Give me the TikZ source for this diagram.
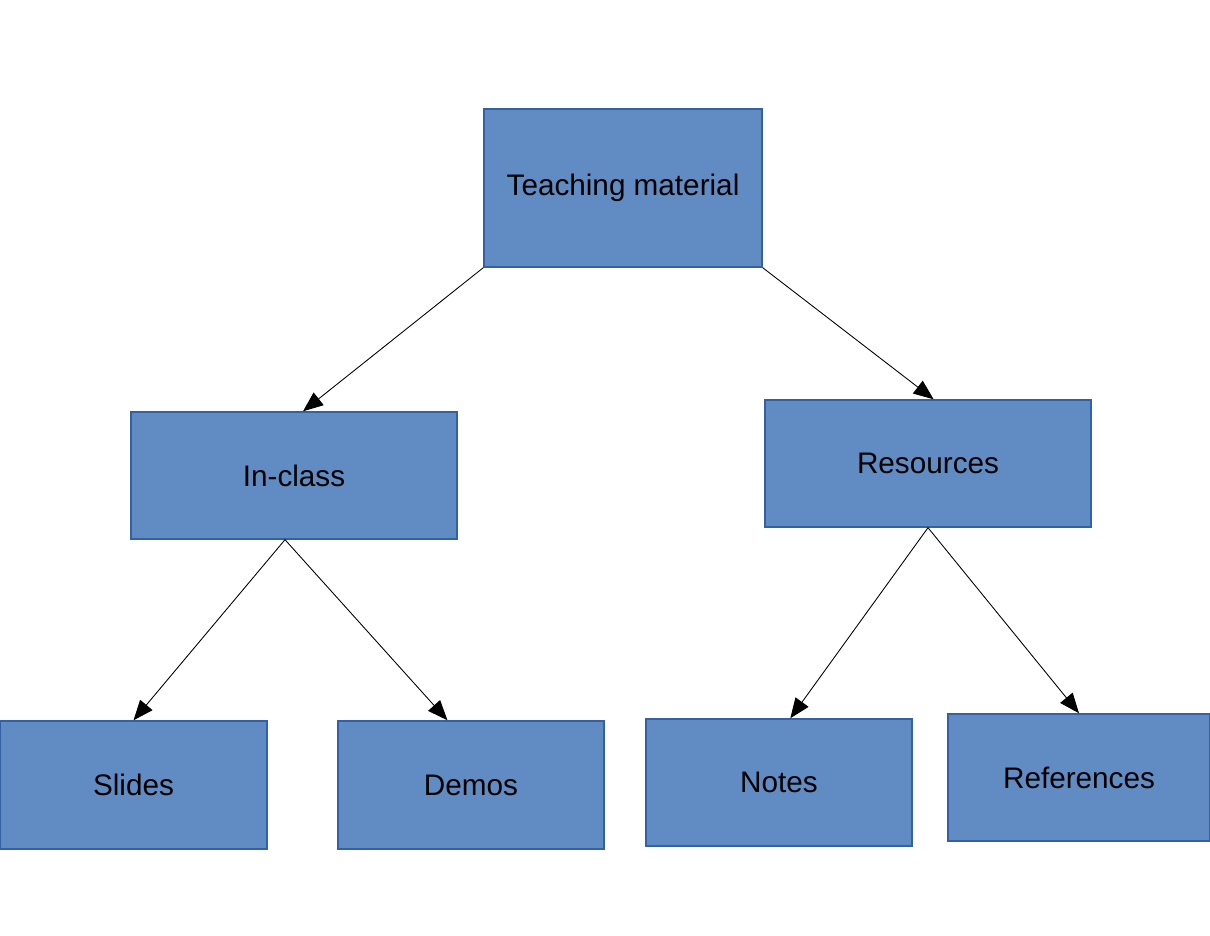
\documentclass[tikz,border=0pt]{standalone}
\usepackage{fontspec}
\setmainfont{Liberation Sans}
\usetikzlibrary{arrows.meta}
\definecolor{boxfill}{RGB}{96,140,195}
\definecolor{boxline}{RGB}{52,96,164}
\begin{document}
\begin{tikzpicture}[
  box/.style={draw=boxline, fill=boxfill, line width=0.4pt, inner sep=0pt, font=\fontsize{8.45}{10}\selectfont},
  link/.style={line width=0.25pt, -{Triangle[length=0.2cm, width=0.16cm]}}
]
\useasboundingbox (0,0) rectangle (12.1,9.35);

\node[box, minimum width=2.78cm, minimum height=1.58cm](teach) at (6.23, 7.47) {Teaching material};

\node[box, minimum width=3.26cm, minimum height=1.27cm](inclass) at (2.94, 4.595) {In-class};
\node[box, minimum width=3.26cm, minimum height=1.27cm](res) at (9.28, 4.715) {Resources};

\node[box, minimum width=2.67cm, minimum height=1.28cm](slides) at (1.335, 1.50) {Slides};
\node[box, minimum width=2.66cm, minimum height=1.28cm](demos) at (4.71, 1.50) {Demos};
\node[box, minimum width=2.66cm, minimum height=1.27cm](notes) at (7.79, 1.525) {Notes};
\node[box, minimum width=2.62cm, minimum height=1.27cm](refs) at (10.79, 1.575) {References};

\draw[link] (teach.south west) -- (inclass.82);
\draw[link] (teach.south east) -- (res.85);

\draw[link] (inclass.262) -- (slides.north);
\draw[link] (inclass.262) -- (demos.110);

\draw[link] (res.south) -- (notes.80);
\draw[link] (res.south) -- (refs.north);
\end{tikzpicture}
\end{document}
